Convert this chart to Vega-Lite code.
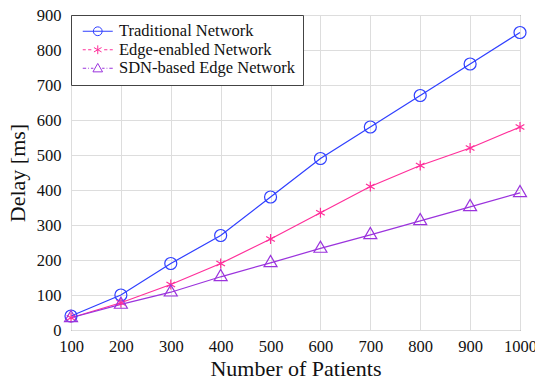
{
  "$schema": "https://vega.github.io/schema/vega-lite/v6.json",
  "width": 449,
  "height": 315,
  "autosize": "none",
  "padding": {"left": 71, "top": 15, "right": 15, "bottom": 54},
  "config": {
    "font": "Liberation Serif",
    "view": {"stroke": "#555555", "strokeWidth": 1},
    "axis": {
      "grid": true,
      "gridColor": "#dddddd",
      "gridWidth": 1,
      "domain": false,
      "ticks": false,
      "labelFont": "Liberation Serif",
      "labelFontSize": 16.5,
      "labelColor": "#111111",
      "titleFont": "Liberation Serif",
      "titleFontSize": 22,
      "titleFontWeight": "normal",
      "titleColor": "#111111"
    },
    "legend": {
      "labelFont": "Liberation Serif",
      "labelFontSize": 16.5,
      "labelColor": "#111111",
      "title": null,
      "orient": "top-left",
      "offset": 0,
      "padding": 8,
      "fillColor": "white",
      "strokeColor": "#444444",
      "cornerRadius": 0,
      "symbolSize": 64,
      "symbolOffset": 10.5,
      "symbolOpacity": 1,
      "labelOffset": 13,
      "labelLimit": 400,
      "rowPadding": 1.5,
      "symbolStrokeWidth": 1,
      "symbolFillColor": "transparent"
    }
  },
  "data": {
    "values": [
      {"patients": 100, "delay": 40, "series": "Traditional Network"},
      {"patients": 200, "delay": 100, "series": "Traditional Network"},
      {"patients": 300, "delay": 190, "series": "Traditional Network"},
      {"patients": 400, "delay": 270, "series": "Traditional Network"},
      {"patients": 500, "delay": 380, "series": "Traditional Network"},
      {"patients": 600, "delay": 490, "series": "Traditional Network"},
      {"patients": 700, "delay": 580, "series": "Traditional Network"},
      {"patients": 800, "delay": 670, "series": "Traditional Network"},
      {"patients": 900, "delay": 760, "series": "Traditional Network"},
      {"patients": 1000, "delay": 850, "series": "Traditional Network"},
      {"patients": 100, "delay": 35, "series": "Edge-enabled Network"},
      {"patients": 200, "delay": 78, "series": "Edge-enabled Network"},
      {"patients": 300, "delay": 130, "series": "Edge-enabled Network"},
      {"patients": 400, "delay": 190, "series": "Edge-enabled Network"},
      {"patients": 500, "delay": 260, "series": "Edge-enabled Network"},
      {"patients": 600, "delay": 335, "series": "Edge-enabled Network"},
      {"patients": 700, "delay": 410, "series": "Edge-enabled Network"},
      {"patients": 800, "delay": 470, "series": "Edge-enabled Network"},
      {"patients": 900, "delay": 520, "series": "Edge-enabled Network"},
      {"patients": 1000, "delay": 580, "series": "Edge-enabled Network"},
      {"patients": 100, "delay": 35, "series": "SDN-based Edge Network"},
      {"patients": 200, "delay": 73, "series": "SDN-based Edge Network"},
      {"patients": 300, "delay": 108, "series": "SDN-based Edge Network"},
      {"patients": 400, "delay": 152, "series": "SDN-based Edge Network"},
      {"patients": 500, "delay": 192, "series": "SDN-based Edge Network"},
      {"patients": 600, "delay": 233, "series": "SDN-based Edge Network"},
      {"patients": 700, "delay": 272, "series": "SDN-based Edge Network"},
      {"patients": 800, "delay": 312, "series": "SDN-based Edge Network"},
      {"patients": 900, "delay": 352, "series": "SDN-based Edge Network"},
      {"patients": 1000, "delay": 392, "series": "SDN-based Edge Network"}
    ]
  },
  "encoding": {
    "x": {
      "field": "patients",
      "type": "quantitative",
      "scale": {"domain": [100, 1000], "nice": false, "zero": false},
      "axis": {"values": [100, 200, 300, 400, 500, 600, 700, 800, 900, 1000], "format": "d", "title": "Number of Patients", "labelPadding": 8, "titlePadding": 4, "labelFlush": false, "labelOverlap": false}
    },
    "y": {
      "field": "delay",
      "type": "quantitative",
      "scale": {"domain": [0, 900], "nice": false},
      "axis": {"values": [0, 100, 200, 300, 400, 500, 600, 700, 800, 900], "format": "d", "title": "Delay [ms]", "labelPadding": 10, "titlePadding": 7, "labelFlush": false, "labelOverlap": false}
    },
    "color": {
      "field": "series",
      "type": "nominal",
      "scale": {
        "domain": ["Traditional Network", "Edge-enabled Network", "SDN-based Edge Network"],
        "range": ["#2f3fff", "#ff2f9a", "#9b33dd"]
      }
    }
  },
  "layer": [
    {
      "mark": {"type": "point", "filled": false, "strokeWidth": 1, "opacity": 0, "size": 64},
      "encoding": {
        "shape": {
          "field": "series",
          "type": "nominal",
          "scale": {
            "domain": ["Traditional Network", "Edge-enabled Network", "SDN-based Edge Network"],
            "range": [
              "M-3.75,0H3.75M1.1,0A1.1,1.1 0 1,1 -1.1,0A1.1,1.1 0 1,1 1.1,0",
              "M-3.75,0H-3M-2.4,0H-1.6M1.6,0H2.4M3,0H3.75M0,-1.1V1.1M-0.95,-0.55L0.95,0.55M-0.95,0.55L0.95,-0.55",
              "M-3.75,0H-2.9M-2.4,0H-2.2M-1.7,0H-1.1M1.1,0H1.7M2.2,0H2.4M2.9,0H3.75M-1.2,0.9L1.2,0.9L0,-1.2Z"
            ]
          }
        }
      }
    },
    {
      "mark": {"type": "line", "strokeWidth": 1.2}
    },
    {
      "transform": [{"filter": "datum.series === 'Traditional Network'"}],
      "mark": {"type": "point", "filled": false, "strokeWidth": 1.2, "opacity": 1, "size": 150, "shape": "M0.98,0A0.98,0.98 0 1,1 -0.98,0A0.98,0.98 0 1,1 0.98,0Z"}
    },
    {
      "transform": [{"filter": "datum.series === 'Edge-enabled Network'"}],
      "mark": {"type": "point", "filled": false, "strokeWidth": 1.2, "opacity": 1, "size": 150, "shape": "M0,-0.82V0.82M-0.71,-0.41L0.71,0.41M-0.71,0.41L0.71,-0.41"}
    },
    {
      "transform": [{"filter": "datum.series === 'SDN-based Edge Network'"}],
      "mark": {"type": "point", "filled": false, "strokeWidth": 1.2, "opacity": 1, "size": 150, "shape": "M-1.06,0.62L1.06,0.62L0,-1.2Z"}
    }
  ]
}
